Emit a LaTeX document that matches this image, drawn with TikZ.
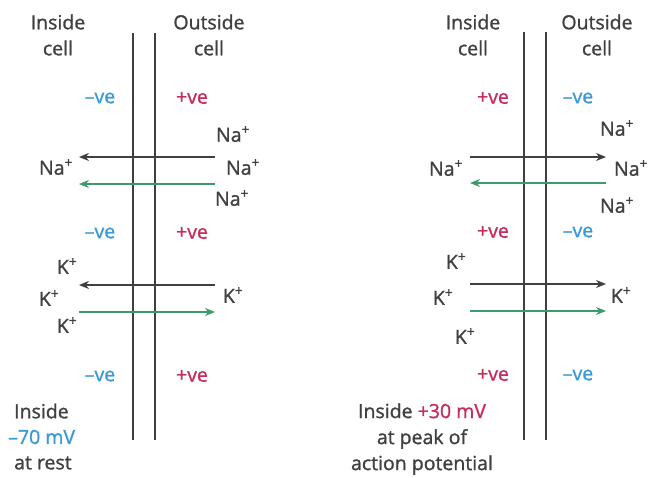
\documentclass[tikz,border=0pt]{standalone}
\usepackage{fontspec}
\setmainfont{Open Sans}[FakeBold=1.2]
\usetikzlibrary{arrows.meta}
\definecolor{txt}{HTML}{404040}
\definecolor{negc}{HTML}{3A9AD6}
\definecolor{posc}{HTML}{C42E5C}
\definecolor{grn}{HTML}{3C9A6C}
\definecolor{mem}{HTML}{404040}
\tikzset{
  lbl/.style={text=txt,inner sep=0pt,font=\fontsize{19.5}{26}\selectfont,align=center},
  ion/.style={text=txt,inner sep=0pt,font=\fontsize{19.5}{26}\selectfont},
  negsign/.style={text=negc,inner sep=0pt,font=\fontsize{19.5}{26}\selectfont},
  possign/.style={text=posc,inner sep=0pt,font=\fontsize{19.5}{26}\selectfont},
  membrane/.style={draw=mem,line width=1.3pt},
  flowk/.style={draw=mem,line width=1.2pt,-{Stealth[length=10pt,width=8pt]}},
  flowg/.style={draw=grn,line width=1.2pt,-{Stealth[length=10pt,width=8pt]}},
}
\newcommand{\ionp}[1]{#1\textsuperscript{+}}
\begin{document}
\begin{tikzpicture}[x=1pt,y=-1pt]
\useasboundingbox (0,0) rectangle (653,477);
% ---------- left panel ----------
\coordinate (m1a) at (133,33); \coordinate (m1b) at (133,440);
\coordinate (m2a) at (155,33); \coordinate (m2b) at (155,440);
\draw[membrane] (m1a) -- (m1b);
\draw[membrane] (m2a) -- (m2b);
\node[lbl] (lin) at (58,35) {Inside\\cell};
\node[lbl] (lout) at (209,35) {Outside\\cell};
\node[negsign] (ln1) at (100,98) {–ve};
\node[possign] (lp1) at (192,98) {+ve};
\node[ion] (lna1) at (233,134) {\ionp{Na}};
\node[ion] (lna2) at (56,167) {\ionp{Na}};
\node[ion] (lna3) at (243,167) {\ionp{Na}};
\node[ion] (lna4) at (232,198) {\ionp{Na}};
\coordinate (la1s) at (215,157); \coordinate (la1e) at (79,157);
\coordinate (la2s) at (215,184); \coordinate (la2e) at (79,184);
\draw[flowk] (la1s) -- (la1e);
\draw[flowg] (la2s) -- (la2e);
\node[negsign] (ln2) at (100,233) {–ve};
\node[possign] (lp2) at (192,233) {+ve};
\node[ion] (lk1) at (67,266) {\ionp{K}};
\node[ion] (lk2) at (49,298) {\ionp{K}};
\node[ion] (lk3) at (233,295) {\ionp{K}};
\node[ion] (lk4) at (67,325) {\ionp{K}};
\coordinate (la3s) at (215,285); \coordinate (la3e) at (79,285);
\coordinate (la4s) at (79,312); \coordinate (la4e) at (215,312);
\draw[flowk] (la3s) -- (la3e);
\draw[flowg] (la4s) -- (la4e);
\node[negsign] (ln3) at (100,376) {–ve};
\node[possign] (lp3) at (192,376) {+ve};
\node[ion,anchor=west] (lr1) at (14,411) {Inside};
\node[negsign,anchor=west] (lr2) at (8,437) {–70 mV};
\node[ion,anchor=west] (lr3) at (14,463) {at rest};
% ---------- right panel ----------
\coordinate (m3a) at (524,32); \coordinate (m3b) at (524,440);
\coordinate (m4a) at (546,32); \coordinate (m4b) at (546,440);
\draw[membrane] (m3a) -- (m3b);
\draw[membrane] (m4a) -- (m4b);
\node[lbl] (rin) at (473,35) {Inside\\cell};
\node[lbl] (rout) at (597,35) {Outside\\cell};
\node[possign] (rp1) at (493,98) {+ve};
\node[negsign] (rn1) at (578,98) {–ve};
\node[ion] (rna1) at (617,128) {\ionp{Na}};
\node[ion] (rna2) at (446,168) {\ionp{Na}};
\node[ion] (rna3) at (631,168) {\ionp{Na}};
\node[ion] (rna4) at (617,205) {\ionp{Na}};
\coordinate (ra1s) at (470,157); \coordinate (ra1e) at (606,157);
\coordinate (ra2s) at (606,183); \coordinate (ra2e) at (470,183);
\draw[flowk] (ra1s) -- (ra1e);
\draw[flowg] (ra2s) -- (ra2e);
\node[possign] (rp2) at (493,232) {+ve};
\node[negsign] (rn2) at (578,232) {–ve};
\node[ion] (rk1) at (456,261) {\ionp{K}};
\node[ion] (rk2) at (443,297) {\ionp{K}};
\node[ion] (rk3) at (621,295) {\ionp{K}};
\node[ion] (rk4) at (465,336) {\ionp{K}};
\coordinate (ra3s) at (470,284); \coordinate (ra3e) at (606,284);
\coordinate (ra4s) at (470,311); \coordinate (ra4e) at (606,311);
\draw[flowk] (ra3s) -- (ra3e);
\draw[flowg] (ra4s) -- (ra4e);
\node[possign] (rp3) at (493,375) {+ve};
\node[negsign] (rn3) at (578,375) {–ve};
\node[lbl] (rpk) at (422,439) {Inside \textcolor{posc}{+30 mV}\\at peak of\\action potential};
\end{tikzpicture}
\end{document}
